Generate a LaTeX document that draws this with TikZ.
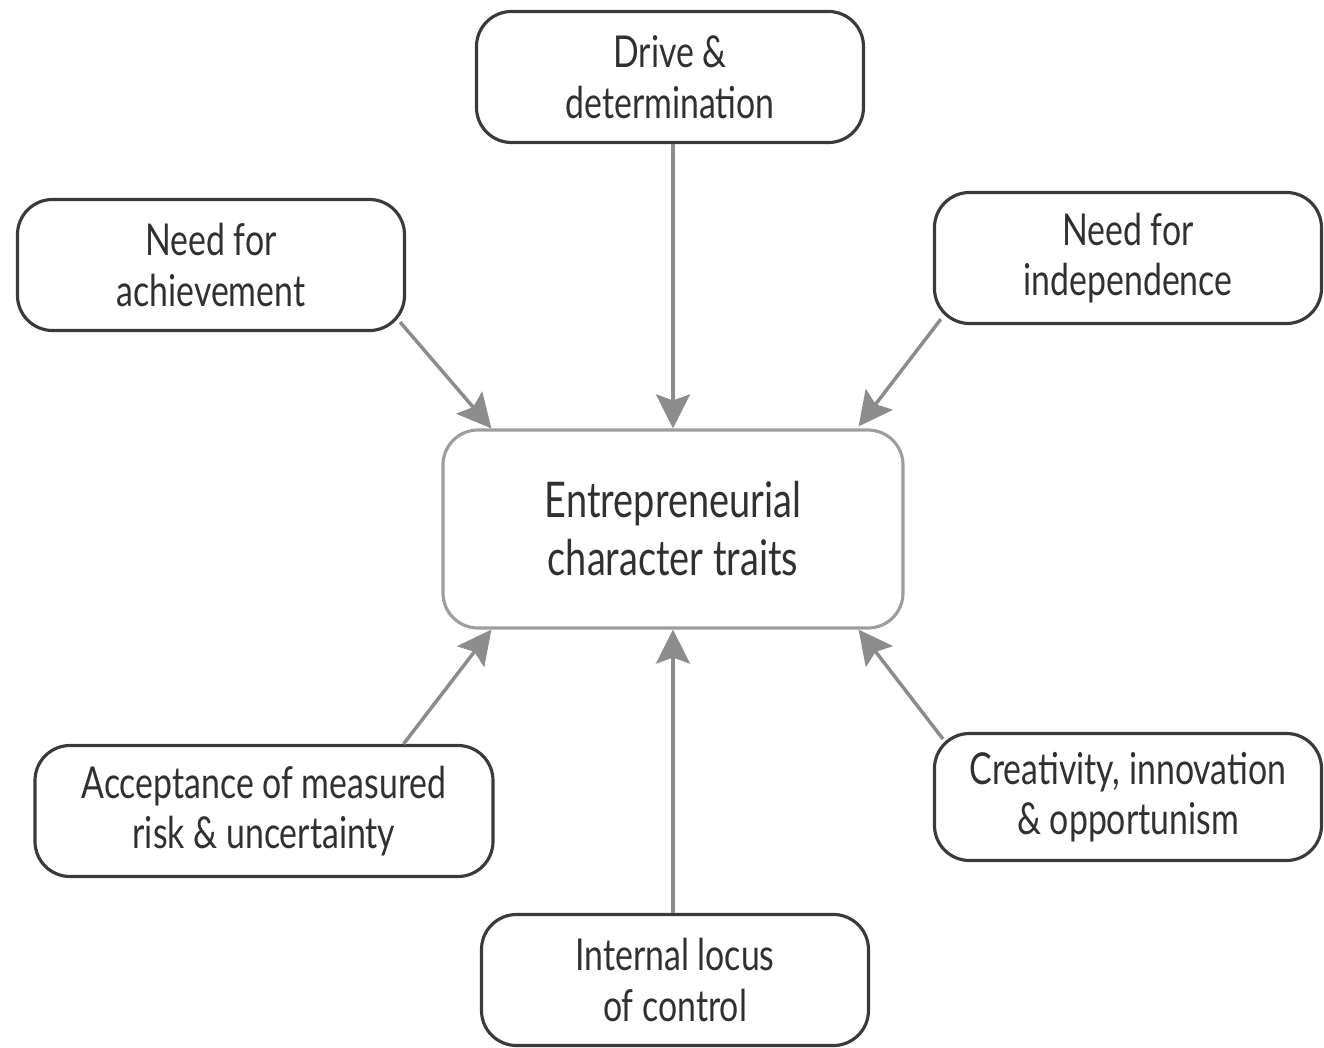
\documentclass[tikz,border=0pt]{standalone}
\usepackage{fontspec}
\setmainfont{Lato}[FakeStretch=0.77]
\usetikzlibrary{arrows.meta}

\definecolor{boxline}{HTML}{3A3A3A}
\definecolor{arrowgray}{HTML}{8C8C8C}
\definecolor{textgray}{HTML}{303030}

\begin{document}
\begin{tikzpicture}[>={Stealth[length=3.4mm,width=3.4mm,inset=0.6mm]},semithick,align=center,
    trait/.style={draw=boxline,line width=0.9pt,rounded corners=0.35cm,minimum width=3.87cm,minimum height=1.31cm,
        text=textgray,font=\fontsize{12.5}{14.4}\selectfont},
    core/.style={trait,draw=arrowgray!85,minimum width=4.6cm,minimum height=1.98cm,
        font=\fontsize{14}{16.5}\selectfont},
    feed/.style={->,draw=arrowgray,fill=arrowgray,line width=1pt}]
        \useasboundingbox (-6.73,-5.18) rectangle (6.51,5.29);

        \node[core] (ect) at (0,0) {Entrepreneurial\\character traits};
        \node[trait] (drive) at (-0.03,4.52) {Drive \&\\determination};
        \node[trait] (achieve) at (-4.62,2.64) {Need for\\achievement};
        \node[trait] (indep) at (4.55,2.71) {Need for\\independence};
        \node[trait,minimum width=4.58cm] (risk) at (-4.09,-2.82) {Acceptance of measured\\risk \& uncertainty};
        \node[trait,minimum height=1.27cm] (creative) at (4.55,-2.68) {Creativity, innovation\\\& opportunism};
        \node[trait] (locus) at (0.02,-4.51) {Internal locus\\of control};

        % arrows into the centre box
        \draw[feed] (drive.south -| ect.north) -- (ect.north);
        \draw[feed] ([xshift=-0.06cm,yshift=0.1cm]achieve.south east) -- ([xshift=0.5cm]ect.north west);
        \draw[feed] ([xshift=0.08cm,yshift=0.06cm]indep.south west) -- ([xshift=-0.46cm,yshift=0.02cm]ect.north east);
        \draw[feed] ([xshift=-0.91cm]risk.north east) -- ([xshift=0.5cm]ect.south west);
        \draw[feed] ([xshift=0.1cm,yshift=-0.07cm]creative.north west) -- ([xshift=-0.46cm]ect.south east);
        \draw[feed] (locus.north -| ect.south) -- (ect.south);
    \end{tikzpicture}
\end{document}
